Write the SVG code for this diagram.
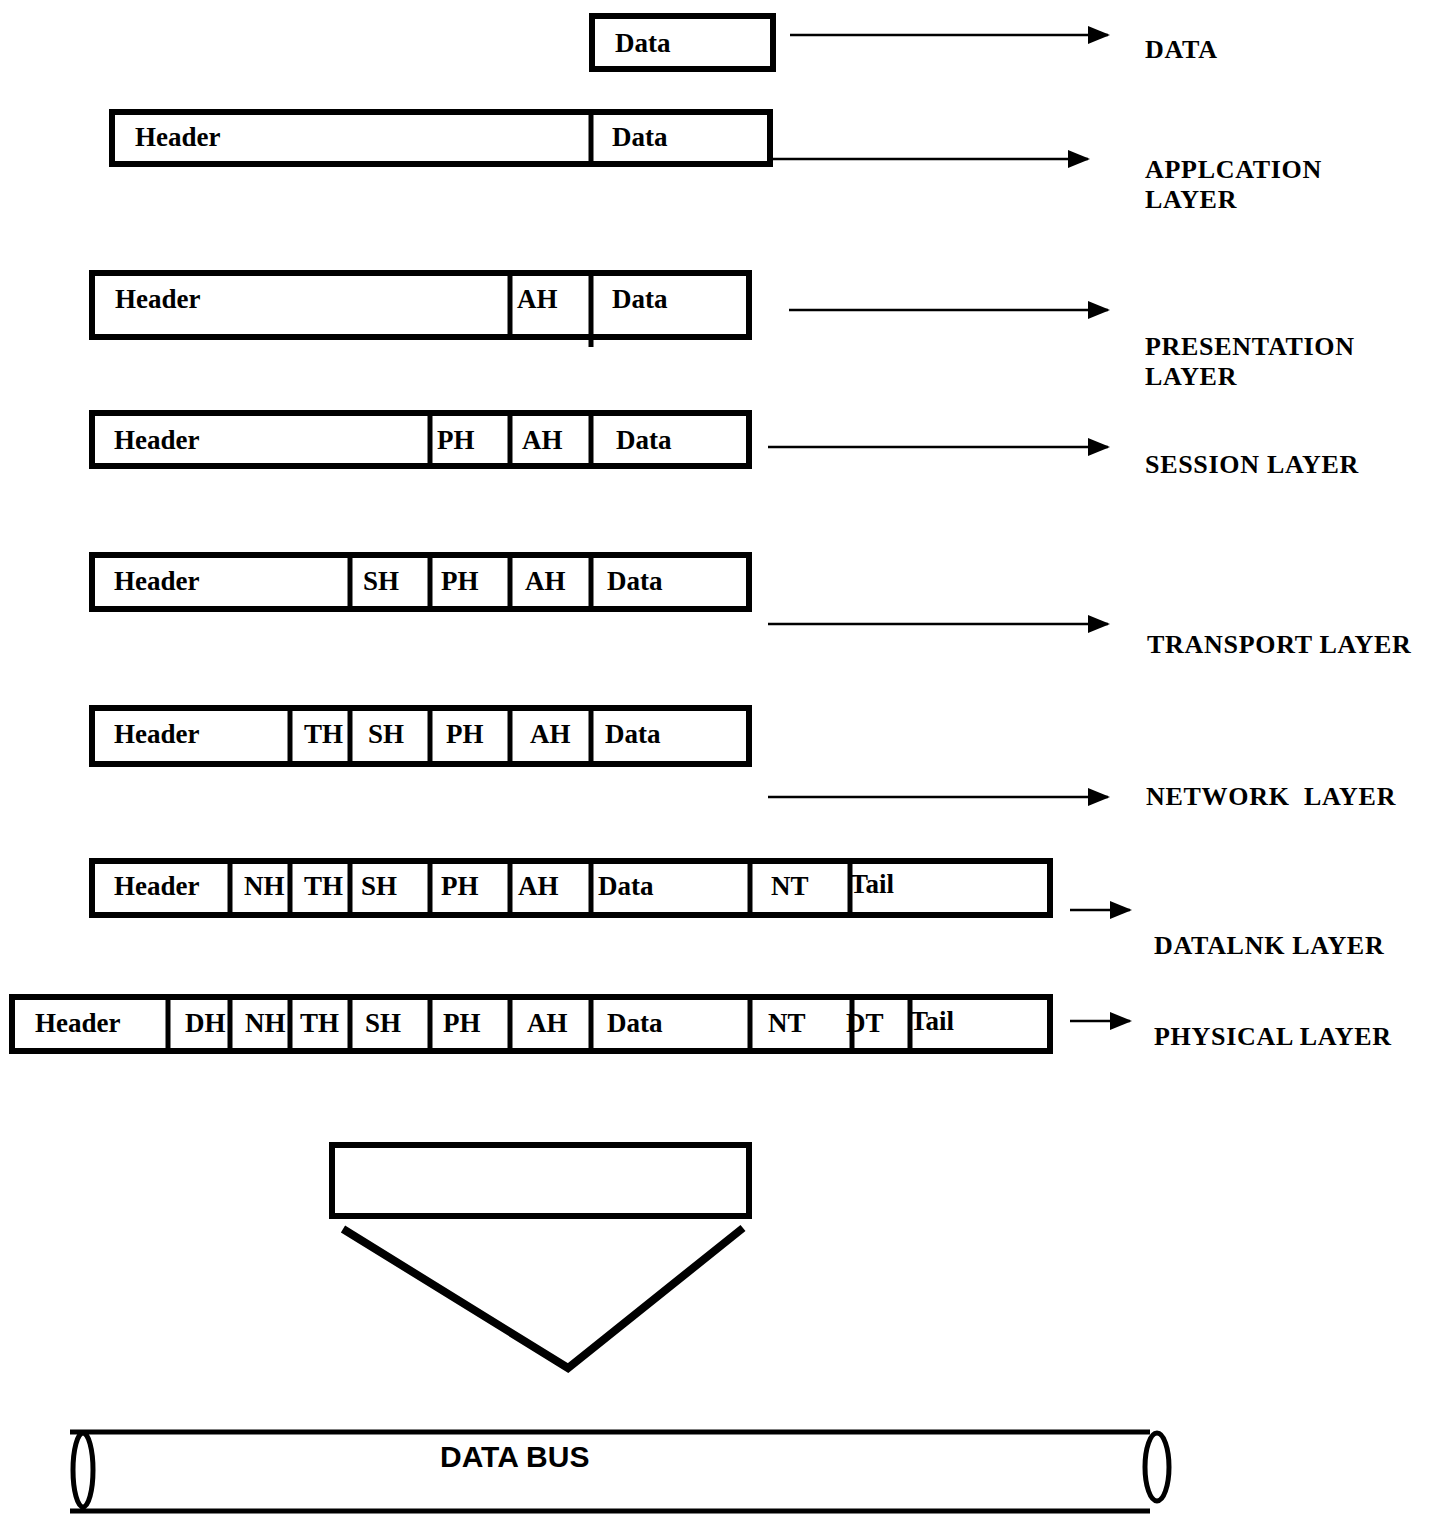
<svg xmlns="http://www.w3.org/2000/svg" width="1431" height="1515" viewBox="0 0 1431 1515">
  <style>
    .frame { fill: #fff; stroke: #000; stroke-width: 6; }
    .div { stroke: #000; stroke-width: 5; }
    .cell { font-family: "Liberation Serif", "Times New Roman", serif; font-weight: bold; font-size: 27px; fill: #000; }
    .lbl { font-family: "Liberation Serif", "Times New Roman", serif; font-weight: bold; font-size: 26px; letter-spacing: 0.7px; fill: #000; }
    .arrow { stroke: #000; stroke-width: 2.5; fill: none; marker-end: url(#head); }
    .bus { stroke: #000; stroke-width: 5; fill: none; }
  </style>
  <defs>
    <marker id="head" viewBox="0 0 22 18" refX="20" refY="9" markerWidth="22" markerHeight="18" markerUnits="userSpaceOnUse" orient="auto">
      <path d="M0,0 L22,9 L0,18 Z" fill="#000"/>
    </marker>
  </defs>

  <rect width="1431" height="1515" fill="#fff"/>

  <!-- raw data -->
  <g id="row-data">
    <rect class="frame" x="592" y="16" width="181" height="53"/>
    <text class="cell" x="615" y="52">Data</text>
  </g>

  <!-- application layer -->
  <g id="row-application">
    <rect class="frame" x="112" y="112" width="658" height="52"/>
    <line class="div" x1="591" y1="112" x2="591" y2="164"/>
    <text class="cell" x="135" y="146">Header</text>
    <text class="cell" x="612" y="146">Data</text>
  </g>

  <!-- presentation layer -->
  <g id="row-presentation">
    <rect class="frame" x="92" y="273" width="657" height="64"/>
    <line class="div" x1="510" y1="273" x2="510" y2="337"/>
    <line class="div" x1="591" y1="273" x2="591" y2="347"/>
    <text class="cell" x="115" y="308">Header</text>
    <text class="cell" x="517" y="308">AH</text>
    <text class="cell" x="612" y="308">Data</text>
  </g>

  <!-- session layer -->
  <g id="row-session">
    <rect class="frame" x="92" y="413" width="657" height="53"/>
    <line class="div" x1="430" y1="413" x2="430" y2="466"/>
    <line class="div" x1="510" y1="413" x2="510" y2="466"/>
    <line class="div" x1="591" y1="413" x2="591" y2="466"/>
    <text class="cell" x="114" y="449">Header</text>
    <text class="cell" x="437" y="449">PH</text>
    <text class="cell" x="522" y="449">AH</text>
    <text class="cell" x="616" y="449">Data</text>
  </g>

  <!-- transport layer -->
  <g id="row-transport">
    <rect class="frame" x="92" y="555" width="657" height="54"/>
    <line class="div" x1="350" y1="555" x2="350" y2="609"/>
    <line class="div" x1="430" y1="555" x2="430" y2="609"/>
    <line class="div" x1="510" y1="555" x2="510" y2="609"/>
    <line class="div" x1="591" y1="555" x2="591" y2="609"/>
    <text class="cell" x="114" y="590">Header</text>
    <text class="cell" x="363" y="590">SH</text>
    <text class="cell" x="441" y="590">PH</text>
    <text class="cell" x="525" y="590">AH</text>
    <text class="cell" x="607" y="590">Data</text>
  </g>

  <!-- network layer -->
  <g id="row-network">
    <rect class="frame" x="92" y="708" width="657" height="56"/>
    <line class="div" x1="290" y1="708" x2="290" y2="764"/>
    <line class="div" x1="350" y1="708" x2="350" y2="764"/>
    <line class="div" x1="430" y1="708" x2="430" y2="764"/>
    <line class="div" x1="510" y1="708" x2="510" y2="764"/>
    <line class="div" x1="591" y1="708" x2="591" y2="764"/>
    <text class="cell" x="114" y="743">Header</text>
    <text class="cell" x="304" y="743">TH</text>
    <text class="cell" x="368" y="743">SH</text>
    <text class="cell" x="446" y="743">PH</text>
    <text class="cell" x="530" y="743">AH</text>
    <text class="cell" x="605" y="743">Data</text>
  </g>

  <!-- data link layer -->
  <g id="row-datalink">
    <rect class="frame" x="92" y="861" width="958" height="54"/>
    <text class="cell" x="114" y="895">Header</text>
    <text class="cell" x="244" y="895">NH</text>
    <text class="cell" x="304" y="895">TH</text>
    <text class="cell" x="361" y="895">SH</text>
    <text class="cell" x="441" y="895">PH</text>
    <text class="cell" x="518" y="895">AH</text>
    <text class="cell" x="598" y="895">Data</text>
    <text class="cell" x="771" y="895">NT</text>
    <text class="cell" x="850" y="893" font-size="24">Tail</text>
    <line class="div" x1="230" y1="861" x2="230" y2="915"/>
    <line class="div" x1="290" y1="861" x2="290" y2="915"/>
    <line class="div" x1="350" y1="861" x2="350" y2="915"/>
    <line class="div" x1="430" y1="861" x2="430" y2="915"/>
    <line class="div" x1="510" y1="861" x2="510" y2="915"/>
    <line class="div" x1="591" y1="861" x2="591" y2="915"/>
    <line class="div" x1="750" y1="861" x2="750" y2="915"/>
    <line class="div" x1="850" y1="861" x2="850" y2="915"/>
  </g>

  <!-- physical layer -->
  <g id="row-physical">
    <rect class="frame" x="12" y="997" width="1038" height="54"/>
    <text class="cell" x="35" y="1032">Header</text>
    <text class="cell" x="185" y="1032">DH</text>
    <text class="cell" x="245" y="1032">NH</text>
    <text class="cell" x="300" y="1032">TH</text>
    <text class="cell" x="365" y="1032">SH</text>
    <text class="cell" x="443" y="1032">PH</text>
    <text class="cell" x="527" y="1032">AH</text>
    <text class="cell" x="607" y="1032">Data</text>
    <text class="cell" x="768" y="1032">NT</text>
    <text class="cell" x="846" y="1032">DT</text>
    <text class="cell" x="910" y="1030" font-size="24">Tail</text>
    <line class="div" x1="168" y1="997" x2="168" y2="1051"/>
    <line class="div" x1="230" y1="997" x2="230" y2="1051"/>
    <line class="div" x1="290" y1="997" x2="290" y2="1051"/>
    <line class="div" x1="350" y1="997" x2="350" y2="1051"/>
    <line class="div" x1="430" y1="997" x2="430" y2="1051"/>
    <line class="div" x1="510" y1="997" x2="510" y2="1051"/>
    <line class="div" x1="591" y1="997" x2="591" y2="1051"/>
    <line class="div" x1="750" y1="997" x2="750" y2="1051"/>
    <line class="div" x1="852" y1="997" x2="852" y2="1051"/>
    <line class="div" x1="910" y1="997" x2="910" y2="1051"/>
  </g>

  <!-- arrows to the layer names -->
  <g id="connectors">
    <line class="arrow" x1="790" y1="35" x2="1108" y2="35"/>
    <line class="arrow" x1="773" y1="159" x2="1088" y2="159"/>
    <line class="arrow" x1="789" y1="310" x2="1108" y2="310"/>
    <line class="arrow" x1="768" y1="447" x2="1108" y2="447"/>
    <line class="arrow" x1="768" y1="624" x2="1108" y2="624"/>
    <line class="arrow" x1="768" y1="797" x2="1108" y2="797"/>
    <line class="arrow" x1="1070" y1="910" x2="1130" y2="910"/>
    <line class="arrow" x1="1070" y1="1021" x2="1130" y2="1021"/>
  </g>

  <!-- layer names -->
  <g id="labels">
    <text class="lbl" x="1145" y="58">DATA</text>
    <text class="lbl" x="1145" y="178">APPLCATION</text>
    <text class="lbl" x="1145" y="208">LAYER</text>
    <text class="lbl" x="1145" y="355">PRESENTATION</text>
    <text class="lbl" x="1145" y="385">LAYER</text>
    <text class="lbl" x="1145" y="473">SESSION LAYER</text>
    <text class="lbl" x="1147" y="653">TRANSPORT LAYER</text>
    <text class="lbl" x="1146" y="805" xml:space="preserve">NETWORK  LAYER</text>
    <text class="lbl" x="1154" y="954">DATALNK LAYER</text>
    <text class="lbl" x="1154" y="1045">PHYSICAL LAYER</text>
  </g>

  <!-- frame put onto the bus -->
  <g id="frame-out">
    <rect class="frame" x="332" y="1145" width="417" height="71"/>
    <polyline points="343,1229 568,1368 743,1228" fill="none" stroke="#000" stroke-width="8"/>
  </g>

  <!-- data bus -->
  <g id="data-bus">
    <line class="bus" x1="70" y1="1432" x2="1150" y2="1432"/>
    <line class="bus" x1="70" y1="1511" x2="1150" y2="1511"/>
    <ellipse class="bus" cx="83" cy="1470" rx="10" ry="37"/>
    <ellipse class="bus" cx="1157" cy="1467" rx="12" ry="34"/>
    <text x="440" y="1467" font-family="Liberation Sans, Arial, sans-serif" font-weight="bold" font-size="30" fill="#000">DATA BUS</text>
  </g>
</svg>
